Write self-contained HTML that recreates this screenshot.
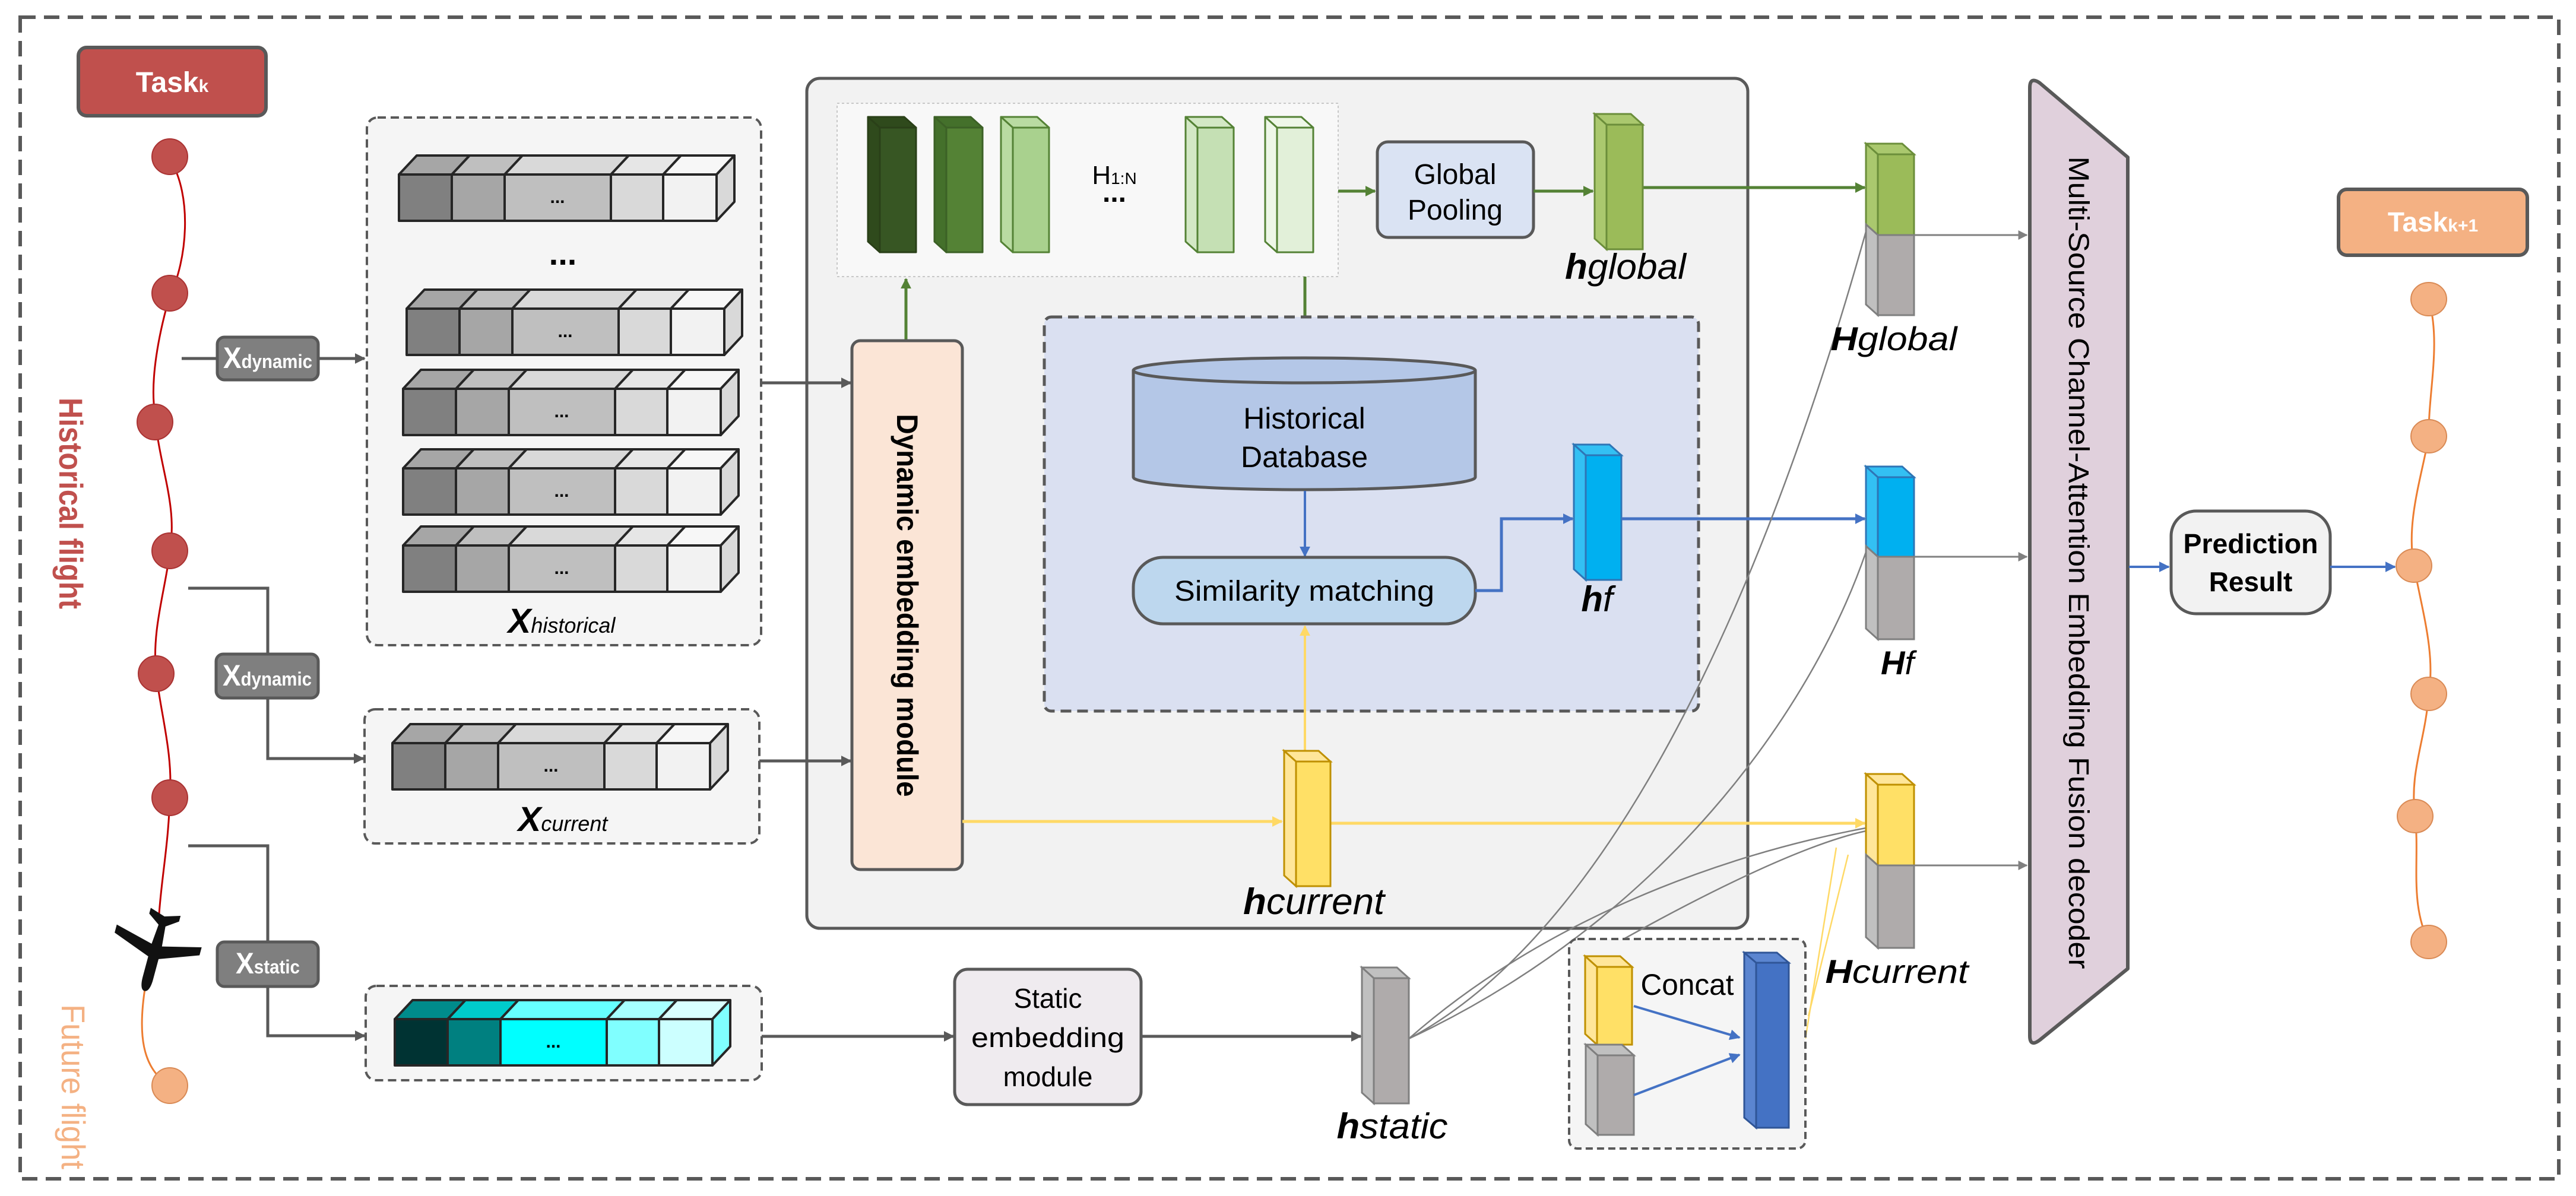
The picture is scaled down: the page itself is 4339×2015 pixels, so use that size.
<!DOCTYPE html>
<html><head><meta charset="utf-8"><style>html,body{margin:0;padding:0;background:#fff}svg{display:block}</style></head>
<body>
<svg xmlns="http://www.w3.org/2000/svg" width="4339" height="2015" viewBox="0 0 4339 2015" font-family="'Liberation Sans', sans-serif">
<defs>
<marker id="ag" viewBox="0 0 10 10" refX="9" refY="5" markerWidth="18" markerHeight="18" markerUnits="userSpaceOnUse" orient="auto"><path d="M0,0 L10,5 L0,10 Z" fill="#595959"/></marker>
<marker id="ag2" viewBox="0 0 10 10" refX="9" refY="5" markerWidth="16" markerHeight="16" markerUnits="userSpaceOnUse" orient="auto"><path d="M0,0 L10,5 L0,10 Z" fill="#808080"/></marker>
<marker id="agr" viewBox="0 0 10 10" refX="9" refY="5" markerWidth="18" markerHeight="18" markerUnits="userSpaceOnUse" orient="auto"><path d="M0,0 L10,5 L0,10 Z" fill="#548235"/></marker>
<marker id="abl" viewBox="0 0 10 10" refX="9" refY="5" markerWidth="18" markerHeight="18" markerUnits="userSpaceOnUse" orient="auto"><path d="M0,0 L10,5 L0,10 Z" fill="#4472c4"/></marker>
<marker id="ay" viewBox="0 0 10 10" refX="9" refY="5" markerWidth="18" markerHeight="18" markerUnits="userSpaceOnUse" orient="auto"><path d="M0,0 L10,5 L0,10 Z" fill="#ffd966"/></marker>
<g id="row" stroke="#262626" stroke-width="4" stroke-linejoin="round">
 <polygon points="0,0 30,-32 119,-32 89,0" fill="#a6a6a6"/>
 <polygon points="89,0 119,-32 208,-32 178,0" fill="#bfbfbf"/>
 <polygon points="178,0 208,-32 387,-32 357,0" fill="#d9d9d9"/>
 <polygon points="357,0 387,-32 475,-32 445,0" fill="#e6e6e6"/>
 <polygon points="445,0 475,-32 565,-32 535,0" fill="#f7f7f7"/>
 <polygon points="535,0 565,-32 565,46 535,78" fill="#d9d9d9"/>
 <rect x="0" y="0" width="89" height="78" fill="#808080"/>
 <rect x="89" y="0" width="89" height="78" fill="#a6a6a6"/>
 <rect x="178" y="0" width="179" height="78" fill="#bfbfbf"/>
 <rect x="357" y="0" width="88" height="78" fill="#d9d9d9"/>
 <rect x="445" y="0" width="90" height="78" fill="#f2f2f2"/>
 <text x="267" y="48" font-size="30" font-weight="bold" text-anchor="middle" fill="#000" stroke="none">...</text>
</g>
<g id="trow" stroke="#262626" stroke-width="4" stroke-linejoin="round">
 <polygon points="0,0 30,-32 119,-32 89,0" fill="#008b8b"/>
 <polygon points="89,0 119,-32 208,-32 178,0" fill="#00cccc"/>
 <polygon points="178,0 208,-32 387,-32 357,0" fill="#66ffff"/>
 <polygon points="357,0 387,-32 475,-32 445,0" fill="#a6ffff"/>
 <polygon points="445,0 475,-32 565,-32 535,0" fill="#d9ffff"/>
 <polygon points="535,0 565,-32 565,46 535,78" fill="#80ffff"/>
 <rect x="0" y="0" width="89" height="78" fill="#003333"/>
 <rect x="89" y="0" width="89" height="78" fill="#008080"/>
 <rect x="178" y="0" width="179" height="78" fill="#00ffff"/>
 <rect x="357" y="0" width="88" height="78" fill="#80ffff"/>
 <rect x="445" y="0" width="90" height="78" fill="#ccffff"/>
 <text x="267" y="48" font-size="30" font-weight="bold" text-anchor="middle" fill="#000" stroke="none">...</text>
</g>
</defs>

<!-- outer border -->
<rect x="34" y="29" width="4276" height="1957" fill="none" stroke="#595959" stroke-width="6" stroke-dasharray="26 14"/>

<!-- Task k -->
<rect x="132" y="80" width="316" height="115" rx="14" fill="#c0504d" stroke="#595959" stroke-width="6"/>
<text x="290" y="155" font-size="48" font-weight="bold" fill="#fff" text-anchor="middle">Task<tspan font-size="30">k</tspan></text>

<!-- red chain -->
<path d="M286,268 C325,330 315,440 286,498 C268,560 252,640 261,697 C266,780 300,850 286,927 C280,990 255,1060 263,1134 C270,1200 292,1270 286,1344 C284,1420 272,1480 268,1540" fill="none" stroke="#c00000" stroke-width="3"/>
<g fill="#c0504d" stroke="#a33" stroke-width="2">
<circle cx="286" cy="264" r="30"/><circle cx="286" cy="494" r="30"/><circle cx="261" cy="711" r="30"/>
<circle cx="286" cy="928" r="30"/><circle cx="263" cy="1135" r="30"/><circle cx="286" cy="1344" r="30"/>
</g>
<path d="M245,1660 C232,1740 238,1800 286,1829" fill="none" stroke="#ed7d31" stroke-width="3"/>
<circle cx="286" cy="1829" r="30" fill="#f4b183" stroke="#d98a55" stroke-width="2"/>
<!-- airplane -->
<g transform="translate(262,1600) rotate(195)" fill="#111">
<path d="M0,-72 C7,-72 9,-60 9,-50 L9,-14 L74,10 L74,24 L9,8 L6,42 L26,56 L26,66 L0,58 L-26,66 L-26,56 L-6,42 L-9,8 L-74,24 L-74,10 L-9,-14 L-9,-50 C-9,-60 -7,-72 0,-72 Z"/>
</g>
<text transform="translate(100,848) rotate(90)" font-size="56" font-weight="bold" fill="#c0504d" text-anchor="middle" textLength="356" lengthAdjust="spacingAndGlyphs">Historical flight</text>
<text transform="translate(104,1831) rotate(90)" font-size="56" fill="#f4b183" text-anchor="middle" textLength="278" lengthAdjust="spacingAndGlyphs">Future flight</text>

<!-- connectors left -->
<line x1="306" y1="604" x2="614" y2="604" stroke="#595959" stroke-width="5" marker-end="url(#ag)"/>
<polyline points="317,991 451,991 451,1278 612,1278" fill="none" stroke="#595959" stroke-width="5" marker-end="url(#ag)"/>
<polyline points="317,1425 451,1425 451,1745 614,1745" fill="none" stroke="#595959" stroke-width="5" marker-end="url(#ag)"/>
<rect x="366" y="568" width="170" height="72" rx="12" fill="#7f7f7f" stroke="#595959" stroke-width="5"/>
<text x="451" y="620" font-size="50" font-weight="bold" fill="#fff" text-anchor="middle" textLength="150" lengthAdjust="spacingAndGlyphs">X<tspan font-size="32">dynamic</tspan></text>
<rect x="364" y="1102" width="172" height="74" rx="12" fill="#7f7f7f" stroke="#595959" stroke-width="5"/>
<text x="450" y="1155" font-size="50" font-weight="bold" fill="#fff" text-anchor="middle" textLength="150" lengthAdjust="spacingAndGlyphs">X<tspan font-size="32">dynamic</tspan></text>
<rect x="366" y="1587" width="170" height="75" rx="12" fill="#7f7f7f" stroke="#595959" stroke-width="5"/>
<text x="451" y="1640" font-size="50" font-weight="bold" fill="#fff" text-anchor="middle" textLength="108" lengthAdjust="spacingAndGlyphs">X<tspan font-size="32">static</tspan></text>

<!-- Xhistorical -->
<rect x="618" y="198" width="664" height="889" rx="18" fill="#f5f5f5" stroke="#595959" stroke-width="4" stroke-dasharray="14 8"/>
<use href="#row" x="672" y="294"/>
<text x="948" y="446" font-size="56" font-weight="bold" text-anchor="middle">...</text>
<use href="#row" x="685" y="520"/>
<use href="#row" x="679" y="655"/>
<use href="#row" x="679" y="789"/>
<use href="#row" x="679" y="919"/>
<text x="946" y="1066" font-size="58" font-style="italic" font-weight="bold" text-anchor="middle">X<tspan font-size="36" font-weight="normal">historical</tspan></text>

<!-- Xcurrent -->
<rect x="614" y="1195" width="665" height="226" rx="18" fill="#f5f5f5" stroke="#595959" stroke-width="4" stroke-dasharray="14 8"/>
<use href="#row" x="661" y="1252"/>
<text x="948" y="1400" font-size="58" font-style="italic" font-weight="bold" text-anchor="middle">X<tspan font-size="36" font-weight="normal">current</tspan></text>

<!-- Static input -->
<rect x="616" y="1661" width="667" height="159" rx="18" fill="#f5f5f5" stroke="#595959" stroke-width="4" stroke-dasharray="14 8"/>
<use href="#trow" x="665" y="1717"/>

<!-- main box -->
<rect x="1359" y="132" width="1585" height="1432" rx="22" fill="#f2f2f2" stroke="#595959" stroke-width="5"/>
<line x1="1282" y1="645" x2="1433" y2="645" stroke="#595959" stroke-width="5" marker-end="url(#ag)"/>
<line x1="1279" y1="1282" x2="1433" y2="1282" stroke="#595959" stroke-width="5" marker-end="url(#ag)"/>

<!-- H box -->
<rect x="1410" y="174" width="844" height="292" fill="#f8f8f8" stroke="#c8c8c8" stroke-width="2" stroke-dasharray="4 4"/>
<g stroke-width="3" stroke-linejoin="round">
<g stroke="#2a4018"><polygon points="1482,215 1462,197 1523,197 1543,215" fill="#2f4a1c"/><polygon points="1482,215 1462,197 1462,407 1482,425" fill="#2f4a1c"/><rect x="1482" y="215" width="61" height="210" fill="#375623"/></g>
<g stroke="#3c6126"><polygon points="1594,215 1574,197 1635,197 1655,215" fill="#44702b"/><polygon points="1594,215 1574,197 1574,407 1594,425" fill="#44702b"/><rect x="1594" y="215" width="61" height="210" fill="#548235"/></g>
<g stroke="#548235"><polygon points="1706,215 1686,197 1747,197 1767,215" fill="#b9dba2"/><polygon points="1706,215 1686,197 1686,407 1706,425" fill="#b9dba2"/><rect x="1706" y="215" width="61" height="210" fill="#a9d18e"/></g>
<g stroke="#548235"><polygon points="2017,215 1997,197 2058,197 2078,215" fill="#d3e8c5"/><polygon points="2017,215 1997,197 1997,407 2017,425" fill="#d3e8c5"/><rect x="2017" y="215" width="61" height="210" fill="#c5e0b4"/></g>
<g stroke="#548235"><polygon points="2151,215 2131,197 2192,197 2212,215" fill="#eef7e8"/><polygon points="2151,215 2131,197 2131,407 2151,425" fill="#eef7e8"/><rect x="2151" y="215" width="61" height="210" fill="#e2f0d9"/></g>
</g>
<text x="1877" y="310" font-size="44" text-anchor="middle">H<tspan font-size="28">1:N</tspan></text>
<text x="1877" y="340" font-size="48" font-weight="bold" text-anchor="middle">...</text>

<line x1="2254" y1="322" x2="2316" y2="322" stroke="#548235" stroke-width="5" marker-end="url(#agr)"/>
<rect x="2320" y="239" width="263" height="161" rx="18" fill="#dae3f3" stroke="#595959" stroke-width="5"/>
<text x="2451" y="310" font-size="48" text-anchor="middle">Global</text>
<text x="2451" y="370" font-size="48" text-anchor="middle">Pooling</text>
<line x1="2583" y1="322" x2="2683" y2="322" stroke="#548235" stroke-width="5" marker-end="url(#agr)"/>
<line x1="2767" y1="316" x2="3141" y2="316" stroke="#548235" stroke-width="5" marker-end="url(#agr)"/>
<g stroke="#6b8e3a" stroke-width="3"><polygon points="2706,210 2686,192 2747,192 2767,210" fill="#aac86e"/><polygon points="2706,210 2686,192 2686,402 2706,420" fill="#aac86e"/><rect x="2706" y="210" width="61" height="210" fill="#9bbb59"/></g>
<text x="2738" y="470" font-size="60" font-style="italic" text-anchor="middle" textLength="204" lengthAdjust="spacingAndGlyphs"><tspan font-weight="bold">h</tspan>global</text>

<!-- green arrows -->
<line x1="1526" y1="574" x2="1526" y2="470" stroke="#548235" stroke-width="5" marker-end="url(#agr)"/>
<line x1="2198" y1="466" x2="2198" y2="595" stroke="#548235" stroke-width="5" marker-end="url(#agr)"/>

<!-- dynamic embedding module -->
<rect x="1435" y="574" width="186" height="891" rx="14" fill="#fbe5d6" stroke="#595959" stroke-width="5"/>
<text transform="translate(1511,1020) rotate(90)" font-size="50" font-weight="bold" text-anchor="middle" textLength="645" lengthAdjust="spacingAndGlyphs">Dynamic embedding module</text>

<!-- blue dashed -->
<rect x="1759" y="534" width="1102" height="664" rx="12" fill="#dae0f1" stroke="#595959" stroke-width="5" stroke-dasharray="18 10"/>
<path d="M1909,624 L1909,804 A288,21 0 0 0 2485,804 L2485,624" fill="#b4c7e7" stroke="#595959" stroke-width="5"/>
<ellipse cx="2197" cy="624" rx="288" ry="21" fill="#b4c7e7" stroke="#595959" stroke-width="5"/>
<text x="2197" y="722" font-size="50" text-anchor="middle">Historical</text>
<text x="2197" y="787" font-size="50" text-anchor="middle">Database</text>
<line x1="2198" y1="827" x2="2198" y2="937" stroke="#4472c4" stroke-width="4" marker-end="url(#abl)"/>
<rect x="1909" y="939" width="576" height="112" rx="50" fill="#bdd7ee" stroke="#595959" stroke-width="5"/>
<text x="2197" y="1012" font-size="48" text-anchor="middle" textLength="438" lengthAdjust="spacingAndGlyphs">Similarity matching</text>
<polyline points="2485,995 2529,995 2529,874 2649,874" fill="none" stroke="#4472c4" stroke-width="5" marker-end="url(#abl)"/>
<g stroke="#2e75b6" stroke-width="3"><polygon points="2671,767 2651,749 2711,749 2731,767" fill="#33c0f3"/><polygon points="2671,767 2651,749 2651,959 2671,977" fill="#33c0f3"/><rect x="2671" y="767" width="60" height="210" fill="#00b0f0"/></g>
<text x="2690" y="1030" font-size="60" font-style="italic" text-anchor="middle"><tspan font-weight="bold">h</tspan>f</text>
<line x1="2731" y1="874" x2="3141" y2="874" stroke="#4472c4" stroke-width="5" marker-end="url(#abl)"/>

<!-- hcurrent -->
<line x1="2198" y1="1265" x2="2198" y2="1055" stroke="#ffd966" stroke-width="4" marker-end="url(#ay)"/>
<line x1="1621" y1="1384" x2="2159" y2="1384" stroke="#ffd966" stroke-width="5" marker-end="url(#ay)"/>
<line x1="2241" y1="1387" x2="3141" y2="1387" stroke="#ffd966" stroke-width="5" marker-end="url(#ay)"/>
<g stroke="#bf9000" stroke-width="3"><polygon points="2183,1283 2163,1265 2221,1265 2241,1283" fill="#ffe699"/><polygon points="2183,1283 2163,1265 2163,1475 2183,1493" fill="#ffe699"/><rect x="2183" y="1283" width="58" height="210" fill="#ffe066"/></g>
<text x="2213" y="1540" font-size="62" font-style="italic" text-anchor="middle" textLength="238" lengthAdjust="spacingAndGlyphs"><tspan font-weight="bold">h</tspan>current</text>

<!-- static module -->
<line x1="1283" y1="1746" x2="1606" y2="1746" stroke="#595959" stroke-width="5" marker-end="url(#ag)"/>
<rect x="1608" y="1633" width="314" height="228" rx="22" fill="#efebef" stroke="#595959" stroke-width="5"/>
<text x="1765" y="1698" font-size="46" text-anchor="middle">Static</text>
<text x="1765" y="1764" font-size="46" text-anchor="middle" textLength="258" lengthAdjust="spacingAndGlyphs">embedding</text>
<text x="1765" y="1830" font-size="46" text-anchor="middle">module</text>
<line x1="1922" y1="1746" x2="2292" y2="1746" stroke="#595959" stroke-width="5" marker-end="url(#ag)"/>
<g stroke="#7f7f7f" stroke-width="3"><polygon points="2314,1648 2294,1630 2353,1630 2373,1648" fill="#c0c0c0"/><polygon points="2314,1648 2294,1630 2294,1841 2314,1859" fill="#c0c0c0"/><rect x="2314" y="1648" width="59" height="211" fill="#afabab"/></g>
<text x="2345" y="1918" font-size="60" font-style="italic" text-anchor="middle" textLength="187" lengthAdjust="spacingAndGlyphs"><tspan font-weight="bold">h</tspan>static</text>

<!-- gray curves -->
<g fill="none" stroke="#7f7f7f" stroke-width="2.5">
<path d="M2373,1750 C2750,1550 3000,900 3143,390"/>
<path d="M2373,1750 C2800,1550 3050,1200 3143,930"/>
<path d="M2373,1750 C2600,1550 2900,1440 3143,1395"/>
<path d="M2735,1582 C2900,1490 3050,1420 3143,1400"/>
</g>
<g fill="none" stroke="#ffd966" stroke-width="2.5">
<line x1="3041" y1="1750" x2="3093" y2="1428"/>
<line x1="3046" y1="1712" x2="3113" y2="1440"/>
</g>

<!-- concat -->
<rect x="2643" y="1582" width="398" height="353" rx="14" fill="#f5f5f5" stroke="#595959" stroke-width="4" stroke-dasharray="12 7"/>
<g stroke="#bf9000" stroke-width="3"><polygon points="2690,1629 2670,1611 2729,1611 2749,1629" fill="#ffe699"/><polygon points="2690,1629 2670,1611 2670,1742 2690,1760" fill="#ffe699"/><rect x="2690" y="1629" width="59" height="131" fill="#ffe066"/></g>
<g stroke="#7f7f7f" stroke-width="3"><polygon points="2691,1778 2671,1760 2732,1760 2752,1778" fill="#c0c0c0"/><polygon points="2691,1778 2671,1760 2671,1894 2691,1912" fill="#c0c0c0"/><rect x="2691" y="1778" width="61" height="134" fill="#afabab"/></g>
<text x="2842" y="1676" font-size="50" text-anchor="middle" textLength="157" lengthAdjust="spacingAndGlyphs">Concat</text>
<line x1="2752" y1="1695" x2="2930" y2="1748" stroke="#4472c4" stroke-width="4" marker-end="url(#abl)"/>
<line x1="2752" y1="1845" x2="2930" y2="1777" stroke="#4472c4" stroke-width="4" marker-end="url(#abl)"/>
<g stroke="#2f5597" stroke-width="3"><polygon points="2958,1622 2938,1605 2993,1605 3013,1622" fill="#5b85d0"/><polygon points="2958,1622 2938,1605 2938,1883 2958,1900" fill="#5b85d0"/><rect x="2958" y="1622" width="55" height="278" fill="#4472c4"/></g>

<!-- right stacks -->
<g stroke-width="3">
<polygon points="3163,260 3143,242 3204,242 3224,260" fill="#aac86e" stroke="#6b8e3a"/>
<polygon points="3163,260 3143,242 3143,378 3163,396" fill="#aac86e" stroke="#6b8e3a"/>
<rect x="3163" y="260" width="61" height="136" fill="#9bbb59" stroke="#6b8e3a"/>
<polygon points="3163,396 3143,378 3143,513 3163,531" fill="#c0c0c0" stroke="#7f7f7f"/>
<rect x="3163" y="396" width="61" height="135" fill="#afabab" stroke="#7f7f7f"/>

<polygon points="3163,804 3143,786 3204,786 3224,804" fill="#33c0f3" stroke="#2e75b6"/>
<polygon points="3163,804 3143,786 3143,920 3163,938" fill="#33c0f3" stroke="#2e75b6"/>
<rect x="3163" y="804" width="61" height="134" fill="#00b0f0" stroke="#2e75b6"/>
<polygon points="3163,938 3143,920 3143,1059 3163,1077" fill="#c0c0c0" stroke="#7f7f7f"/>
<rect x="3163" y="938" width="61" height="139" fill="#afabab" stroke="#7f7f7f"/>

<polygon points="3163,1322 3143,1304 3204,1304 3224,1322" fill="#ffe699" stroke="#bf9000"/>
<polygon points="3163,1322 3143,1304 3143,1440 3163,1458" fill="#ffe699" stroke="#bf9000"/>
<rect x="3163" y="1322" width="61" height="136" fill="#ffe066" stroke="#bf9000"/>
<polygon points="3163,1458 3143,1440 3143,1579 3163,1597" fill="#c0c0c0" stroke="#7f7f7f"/>
<rect x="3163" y="1458" width="61" height="139" fill="#afabab" stroke="#7f7f7f"/>
</g>
<text x="3190" y="590" font-size="56" font-style="italic" text-anchor="middle" textLength="213" lengthAdjust="spacingAndGlyphs"><tspan font-weight="bold">H</tspan>global</text>
<text x="3196" y="1136" font-size="56" font-style="italic" text-anchor="middle"><tspan font-weight="bold">H</tspan>f</text>
<text x="3195" y="1656" font-size="56" font-style="italic" text-anchor="middle" textLength="241" lengthAdjust="spacingAndGlyphs"><tspan font-weight="bold">H</tspan>current</text>
<line x1="3224" y1="396" x2="3414" y2="396" stroke="#808080" stroke-width="3" marker-end="url(#ag2)"/>
<line x1="3224" y1="938" x2="3414" y2="938" stroke="#808080" stroke-width="3" marker-end="url(#ag2)"/>
<line x1="3224" y1="1458" x2="3414" y2="1458" stroke="#808080" stroke-width="3" marker-end="url(#ag2)"/>

<!-- decoder -->
<path d="M3419,148 Q3419,128 3436,140 L3584,265 L3584,1632 L3436,1752 Q3419,1765 3419,1745 Z" fill="#e0d0dc" stroke="#595959" stroke-width="6" stroke-linejoin="round"/>
<text transform="translate(3485,948) rotate(90)" font-size="48" text-anchor="middle" textLength="1369" lengthAdjust="spacingAndGlyphs">Multi-Source Channel-Attention Embedding Fusion  decoder</text>
<line x1="3586" y1="955" x2="3653" y2="955" stroke="#4472c4" stroke-width="4" marker-end="url(#abl)"/>
<rect x="3657" y="861" width="268" height="173" rx="42" fill="#f2f2f2" stroke="#595959" stroke-width="5"/>
<text x="3791" y="932" font-size="46" font-weight="bold" text-anchor="middle" textLength="227" lengthAdjust="spacingAndGlyphs">Prediction</text>
<text x="3791" y="996" font-size="46" font-weight="bold" text-anchor="middle">Result</text>
<line x1="3925" y1="955" x2="4034" y2="955" stroke="#4472c4" stroke-width="4" marker-end="url(#abl)"/>

<!-- Task k+1 -->
<rect x="3939" y="319" width="318" height="111" rx="14" fill="#f4b183" stroke="#595959" stroke-width="6"/>
<text x="4098" y="390" font-size="46" font-weight="bold" fill="#fff" text-anchor="middle">Task<tspan font-size="30">k+1</tspan></text>
<path d="M4091,504 C4112,580 4090,660 4091,735 C4080,800 4052,880 4066,953 C4080,1030 4102,1100 4091,1169 C4085,1250 4058,1300 4068,1375 C4076,1450 4058,1520 4091,1587" fill="none" stroke="#ed7d31" stroke-width="3"/>
<g fill="#f4b183" stroke="#d98a55" stroke-width="2">
<ellipse cx="4091" cy="504" rx="30" ry="28"/><ellipse cx="4091" cy="735" rx="30" ry="28"/><ellipse cx="4066" cy="953" rx="30" ry="28"/>
<ellipse cx="4091" cy="1169" rx="30" ry="28"/><ellipse cx="4068" cy="1375" rx="30" ry="28"/><ellipse cx="4091" cy="1587" rx="30" ry="28"/>
</g>
</svg>
</body></html>
